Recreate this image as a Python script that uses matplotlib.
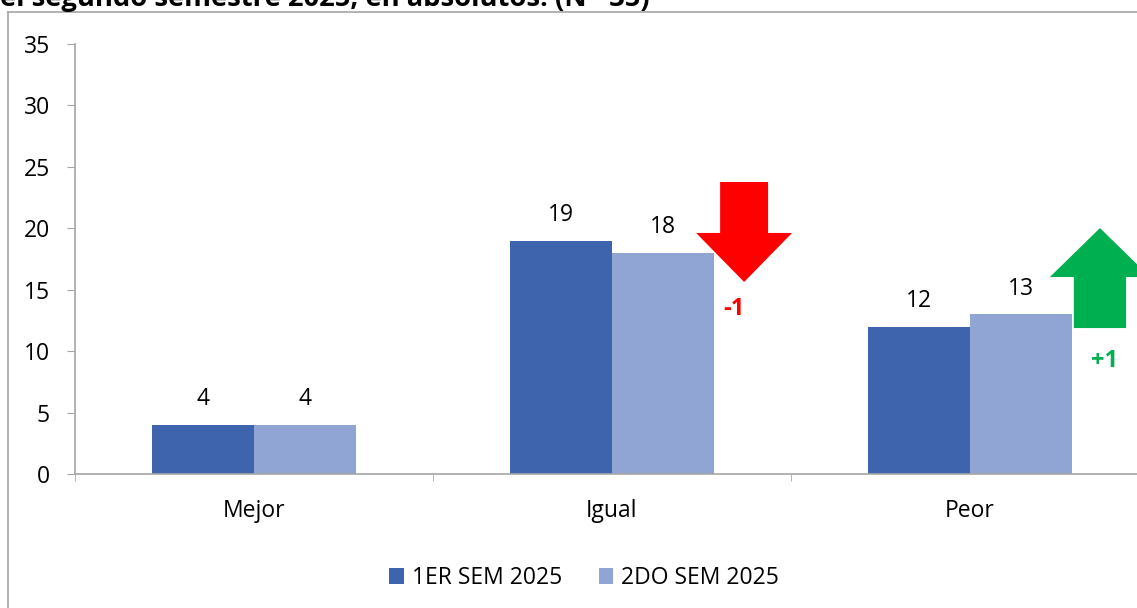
import matplotlib
matplotlib.use("Agg")
import matplotlib.pyplot as plt
from matplotlib.patches import Polygon
from matplotlib.lines import Line2D
import numpy as np

categories = ["Mejor", "Igual", "Peor"]
series_names = ["1ER SEM 2025", "2DO SEM 2025"]
sem1 = [4, 19, 12]
sem2 = [4, 18, 13]
yticks = [0, 5, 10, 15, 20, 25, 30, 35]
title = "el segundo semestre 2025, en absolutos. (N= 35)"

plt.rcParams['font.family'] = ['Open Sans', 'DejaVu Sans']
C1 = "#3E64AD"
C2 = "#91A5D4"
RED = "#FF0000"
GREEN = "#00B050"
GRAY = "#A6A6A6"
FS = 16.5

W, H = 1137, 608
fig = plt.figure(figsize=(W / 100, H / 100), dpi=100)

# outer chart border (partially outside the image)
fig.add_artist(Line2D([8 / W, 8 / W], [0, 1 - 12 / H], transform=fig.transFigure, color=GRAY, lw=1.2))
fig.add_artist(Line2D([8 / W, 1], [1 - 12 / H, 1 - 12 / H], transform=fig.transFigure, color=GRAY, lw=1.2))

# clipped title
fig.text(0 / W, 1 - 6 / H, title, fontsize=19.7, fontweight='bold', ha='left', va='baseline')

ax = fig.add_axes([75 / W, (H - 474) / H, (1149 - 75) / W, 430 / H])
x = np.arange(len(categories))
bw = 0.285
b1 = ax.bar(x - bw / 2, sem1, bw, color=C1, label=series_names[0])
b2 = ax.bar(x + bw / 2, sem2, bw, color=C2, label=series_names[1])

for bars, vals in ((b1, sem1), (b2, sem2)):
    for r, v in zip(bars, vals):
        ax.annotate(str(v), (r.get_x() + r.get_width() / 2, v), xytext=(0, 18.5),
                    textcoords='offset points', ha='center', va='center', fontsize=FS)

ax.set_xlim(-0.5, 2.5)
ax.set_ylim(0, 35)
ax.set_yticks(yticks)
ax.set_xticks(x)
ax.set_xticklabels(categories)
ax.set_xticks([-0.5, 0.5, 1.5, 2.5], minor=True)
ax.tick_params(axis='x', which='major', length=0, pad=18, labelsize=FS)
ax.tick_params(axis='x', which='minor', length=5, color=GRAY, direction='out')
ax.tick_params(axis='y', length=6, color=GRAY, pad=12, labelsize=FS)
for s in ('top', 'right'):
    ax.spines[s].set_visible(False)
for s in ('left', 'bottom'):
    ax.spines[s].set_color(GRAY)
    ax.spines[s].set_linewidth(1.2)

# change arrows
def arrow(cx, y_tail, y_head_base, y_tip, shaft_hw, head_hw, color):
    pts = [(cx - shaft_hw, y_tail), (cx + shaft_hw, y_tail), (cx + shaft_hw, y_head_base),
           (cx + head_hw, y_head_base), (cx, y_tip), (cx - head_hw, y_head_base),
           (cx - shaft_hw, y_head_base)]
    ax.add_patch(Polygon(pts, closed=True, color=color, clip_on=False, lw=0))

diff_igual = sem2[1] - sem1[1]
diff_peor = sem2[2] - sem1[2]
arrow(1.369, 23.77, 19.62, 15.63, 0.067, 0.134, RED)
ax.text(1.34, 13.4, f"{diff_igual:+d}", color=RED, fontsize=17,
        fontweight='bold', ha='center', va='center')
arrow(2.363, 11.88, 16.03, 20.02, 0.073, 0.14, GREEN)
ax.text(2.375, 9.2, f"{diff_peor:+d}", color=GREEN, fontsize=17,
        fontweight='bold', ha='center', va='center')

fig.legend(handles=[b1, b2], labels=series_names, loc='center', bbox_to_anchor=(584 / W, 1 - 578 / H),
           ncol=2, frameon=False, fontsize=FS, handlelength=0.65, handleheight=0.65,
           handletextpad=0.35, columnspacing=1.6)

fig.savefig("out.png", dpi=100)
